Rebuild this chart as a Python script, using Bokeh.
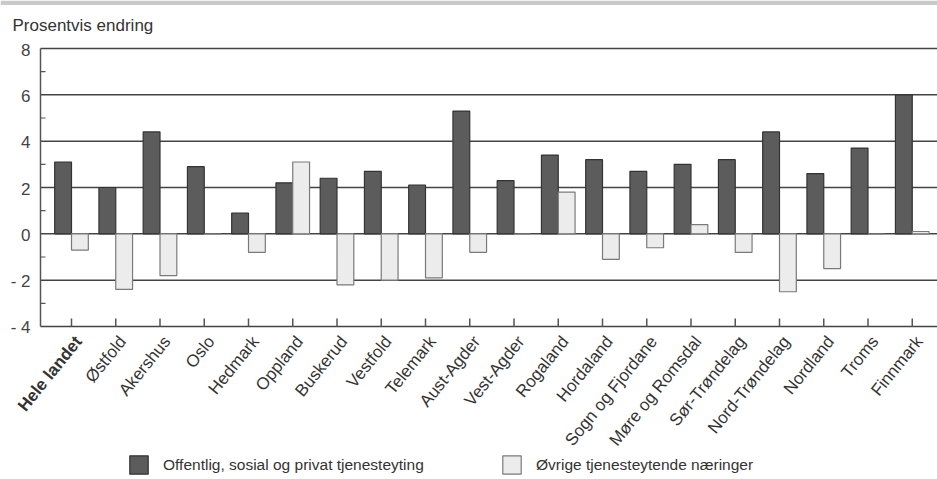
import numpy as np
from bokeh.plotting import figure
from bokeh.models import Range1d, Legend, LegendItem, ColumnDataSource, BoxAnnotation
from bokeh.core.properties import value, field
from bokeh.embed import file_html
from bokeh.resources import INLINE

regions = ["Hele landet", "Østfold", "Akershus", "Oslo", "Hedmark", "Oppland",
           "Buskerud", "Vestfold", "Telemark", "Aust-Agder", "Vest-Agder",
           "Rogaland", "Hordaland", "Sogn og Fjordane", "Møre og Romsdal",
           "Sør-Trøndelag", "Nord-Trøndelag", "Nordland", "Troms", "Finnmark"]
offentlig = [3.1, 2.0, 4.4, 2.9, 0.9, 2.2, 2.4, 2.7, 2.1, 5.3,
             2.3, 3.4, 3.2, 2.7, 3.0, 3.2, 4.4, 2.6, 3.7, 6.0]
ovrige = [-0.7, -2.4, -1.8, 0.0, -0.8, 3.1, -2.2, -2.0, -1.9, -0.8,
          0.0, 1.8, -1.1, -0.6, 0.4, -0.8, -2.5, -1.5, 0.0, 0.1]
series_names = ["Offentlig, sosial og privat tjenesteyting", "Øvrige tjenesteytende næringer"]
y_ticks = [-4, -2, 0, 2, 4, 6, 8]
y_minor = [-3, -1, 1, 3, 5, 7]
y_tick_labels = ["- 4", "- 2", "0", "2", "4", "6", "8"]
title_text = "Prosentvis endring"

FONT = "Liberation Sans"
TXT = "#333333"
AX = "#555555"
n = len(regions)
idx = np.arange(n)
y_min, y_max = y_ticks[0], y_ticks[-1]

# scales: 44.25 px per category, 278/12 px per unit of y
W, H = 937, 479
px_x = 44.25
px_y = 278 / 12
x_start = -71 / px_x
x_end = x_start + W / px_x
x_axis = -31 / px_x                 # position of the value axis, left of first category
y_end = y_max + 48 / px_y
y_start = y_min - (H - 326) / px_y

p = figure(width=W, height=H, output_backend="svg", toolbar_location=None,
           x_range=Range1d(x_start, x_end), y_range=Range1d(y_start, y_end),
           min_border=0)
p.outline_line_color = None
p.background_fill_color = "white"
p.border_fill_color = "white"
p.xaxis.visible = False
p.yaxis.visible = False
p.grid.visible = False

# scanned top band
p.add_layout(BoxAnnotation(bottom=y_end - 4.5 / px_y, top=y_end, fill_color="#c9c9c9",
                           fill_alpha=1, line_alpha=0))

# horizontal grid lines at major ticks
p.segment(x0=[x_axis] * len(y_ticks), y0=y_ticks, x1=[x_end] * len(y_ticks), y1=y_ticks,
          line_color="#444444", line_width=1.5)

src = ColumnDataSource(dict(x1=idx - 0.19, x2=idx + 0.19, a=offentlig, b=ovrige))
r1 = p.vbar(x="x1", top="a", bottom=0, width=0.38, source=src,
            fill_color="#5c5c5c", line_color="#333333", line_width=1.2)
r2 = p.vbar(x="x2", top="b", bottom=0, width=0.38, source=src,
            fill_color="#ececec", line_color="#7a7a7a", line_width=1.2)

# value axis
p.segment(x0=[x_axis], y0=[y_min], x1=[x_axis], y1=[y_max], line_color=AX, line_width=1.5)
p.segment(x0=[x_axis] * len(y_minor), y0=y_minor, x1=[x_axis + 5 / px_x] * len(y_minor),
          y1=y_minor, line_color=AX, line_width=1.2)
p.text(x=[x_axis] * len(y_ticks), y=y_ticks, text=y_tick_labels, text_align="right",
       text_baseline="middle", x_offset=-10, y_offset=1, text_font=value(FONT),
       text_font_size=value("17px"), text_color="#444444")

# category axis
p.segment(x0=idx, y0=[y_min] * n, x1=idx, y1=[y_min + 8 / px_y] * n,
          line_color=AX, line_width=1.5)
lab_src = ColumnDataSource(dict(x=idx, y=[y_min] * n, text=regions,
                                style=["bold"] + ["normal"] * (n - 1)))
p.text(x="x", y="y", text="text", source=lab_src, angle=np.deg2rad(51),
       text_align="right", text_baseline="middle", x_offset=7, y_offset=12,
       text_font=value(FONT), text_font_size=value("17px"), text_color=TXT,
       text_font_style=field("style"))

# title
p.text(x=[x_axis], y=[y_max], text=[title_text], x_offset=-28, y_offset=-23,
       text_align="left", text_baseline="alphabetic", text_font=value(FONT),
       text_font_size=value("17px"), text_color=TXT)

for r, name, vx in [(r1, series_names[0], 127), (r2, series_names[1], 500)]:
    leg = Legend(items=[LegendItem(label=name, renderers=[r])], location=(vx, 3),
                 orientation="horizontal", border_line_alpha=0, background_fill_alpha=0,
                 padding=0, margin=0, glyph_width=23, glyph_height=23, label_height=23,
                 label_standoff=13, label_text_font=FONT, label_text_font_size="15.5px",
                 label_text_color=TXT)
    p.add_layout(leg, "center")

open("out.html", "w").write(file_html(p, INLINE))
